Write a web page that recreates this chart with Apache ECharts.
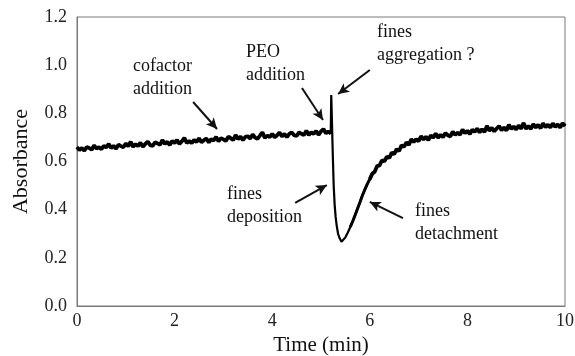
<!DOCTYPE html>
<html>
<head>
<meta charset="utf-8">
<script src="https://cdn.jsdelivr.net/npm/echarts@6/dist/echarts.min.js"></script>
<style>
  html, body { margin: 0; padding: 0; background: #fff; }
  #chart { width: 575px; height: 356px; }
</style>
</head>
<body>
<div id="chart"></div>
<script>
// time (min)
const timeMin = [
  0.00, 0.05, 0.10, 0.15, 0.20, 0.25, 0.30, 0.35, 0.40, 0.45,
  0.50, 0.55, 0.60, 0.65, 0.70, 0.75, 0.80, 0.85, 0.90, 0.95,
  1.00, 1.05, 1.10, 1.15, 1.20, 1.25, 1.30, 1.35, 1.40, 1.45,
  1.50, 1.55, 1.60, 1.65, 1.70, 1.75, 1.80, 1.85, 1.90, 1.95,
  2.00, 2.05, 2.10, 2.15, 2.20, 2.25, 2.30, 2.35, 2.40, 2.45,
  2.50, 2.55, 2.60, 2.65, 2.70, 2.75, 2.80, 2.85, 2.90, 2.95,
  3.00, 3.05, 3.10, 3.15, 3.20, 3.25, 3.30, 3.35, 3.40, 3.45,
  3.50, 3.55, 3.60, 3.65, 3.70, 3.75, 3.80, 3.85, 3.90, 3.95,
  4.00, 4.05, 4.10, 4.15, 4.20, 4.25, 4.30, 4.35, 4.40, 4.45,
  4.50, 4.55, 4.60, 4.65, 4.70, 4.75, 4.80, 4.85, 4.90, 4.95,
  5.00, 5.05, 5.10, 5.15, 5.20,
  5.21, 5.22, 5.24, 5.26, 5.28, 5.30, 5.32, 5.35, 5.38, 5.42,
  5.45, 5.50, 5.55, 5.60, 5.65, 5.70, 5.75, 5.80, 5.85, 5.90, 5.95, 6.00,
  6.05, 6.10, 6.15, 6.20, 6.25, 6.30, 6.35, 6.40, 6.45, 6.50,
  6.55, 6.60, 6.65, 6.70, 6.75, 6.80, 6.85, 6.90, 6.95, 7.00,
  7.05, 7.10, 7.15, 7.20, 7.25, 7.30, 7.35, 7.40, 7.45, 7.50,
  7.55, 7.60, 7.65, 7.70, 7.75, 7.80, 7.85, 7.90, 7.95, 8.00,
  8.05, 8.10, 8.15, 8.20, 8.25, 8.30, 8.35, 8.40, 8.45, 8.50,
  8.55, 8.60, 8.65, 8.70, 8.75, 8.80, 8.85, 8.90, 8.95, 9.00,
  9.05, 9.10, 9.15, 9.20, 9.25, 9.30, 9.35, 9.40, 9.45, 9.50,
  9.55, 9.60, 9.65, 9.70, 9.75, 9.80, 9.85, 9.90, 9.95, 10.00
];

const absorbance = [
  0.660, 0.647, 0.656, 0.645, 0.660, 0.656, 0.649, 0.667, 0.653, 0.660,
  0.651, 0.665, 0.658, 0.673, 0.656, 0.665, 0.653, 0.670, 0.664, 0.659,
  0.675, 0.663, 0.682, 0.661, 0.672, 0.664, 0.678, 0.661, 0.673, 0.683,
  0.668, 0.665, 0.680, 0.675, 0.669, 0.689, 0.673, 0.682, 0.668, 0.685,
  0.677, 0.689, 0.673, 0.684, 0.698, 0.677, 0.685, 0.676, 0.690, 0.681,
  0.696, 0.680, 0.688, 0.696, 0.679, 0.693, 0.687, 0.702, 0.684, 0.697,
  0.692, 0.685, 0.703, 0.697, 0.689, 0.710, 0.693, 0.704, 0.689, 0.702,
  0.705, 0.695, 0.712, 0.699, 0.694, 0.708, 0.721, 0.698, 0.708, 0.701,
  0.715, 0.700, 0.709, 0.720, 0.704, 0.715, 0.701, 0.715, 0.721, 0.709,
  0.706, 0.721, 0.715, 0.710, 0.728, 0.710, 0.721, 0.715, 0.727, 0.711,
  0.725, 0.735, 0.717, 0.725, 0.716,
  0.876, 0.800, 0.640, 0.500, 0.420, 0.370, 0.336, 0.300, 0.282, 0.267,
  0.268, 0.285, 0.305, 0.328, 0.352, 0.378, 0.405, 0.432, 0.460, 0.484, 0.507, 0.527,
  0.549, 0.557, 0.581, 0.584, 0.605, 0.601, 0.620, 0.615, 0.637, 0.631,
  0.651, 0.644, 0.667, 0.661, 0.679, 0.669, 0.692, 0.681, 0.693, 0.684,
  0.705, 0.691, 0.703, 0.689, 0.708, 0.699, 0.716, 0.699, 0.711, 0.701,
  0.718, 0.709, 0.704, 0.724, 0.710, 0.720, 0.711, 0.733, 0.717, 0.728,
  0.714, 0.732, 0.723, 0.737, 0.721, 0.734, 0.722, 0.748, 0.728, 0.740,
  0.725, 0.737, 0.747, 0.730, 0.741, 0.729, 0.753, 0.735, 0.745, 0.733,
  0.750, 0.736, 0.760, 0.736, 0.747, 0.735, 0.755, 0.741, 0.752, 0.738,
  0.759, 0.742, 0.753, 0.741, 0.758, 0.744, 0.754, 0.741, 0.759, 0.747
];

const xTicks = [0, 2, 4, 6, 8, 10];
const yTicks = [0.0, 0.2, 0.4, 0.6, 0.8, 1.0, 1.2];

// annotation arrows: [from, to] in (time, absorbance)
const arrowFrom = [[2.38, 0.847], [4.61, 0.905], [6.00, 0.980], [4.47, 0.428], [6.68, 0.365]];
const arrowTo   = [[2.87, 0.735], [5.04, 0.772], [5.35, 0.880], [5.12, 0.502], [6.00, 0.432]];
const noteText  = ['cofactor\naddition', 'PEO\naddition', 'fines\naggregation ?', 'fines\ndeposition', 'fines\ndetachment'];

const font = 'Liberation Serif';
const axisGray = '#7a7a7a';

const chart = echarts.init(document.getElementById('chart'));

const allPts = timeMin.map((t, i) => [t, absorbance[i]]);
// noisy stretches get a heavier pen, the fast drop stays thin like the original
const noisyBefore = allPts.filter(p => p[0] <= 5.2);
const risePart = allPts.filter(p => p[0] >= 5.6 && p[0] <= 6.1);
const noisyAfter = allPts.filter(p => p[0] >= 6.0);

const notePos = [[133, 55], [246, 41], [377, 21], [227, 183], [415, 200]];

function traceSeries(data, width) {
  return {
    type: 'line',
    data: data,
    showSymbol: false,
    silent: true,
    lineStyle: { color: '#000', width: width },
    itemStyle: { color: '#000' }
  };
}

const mainTrace = traceSeries(allPts, 2.2);
mainTrace.markLine = {
  silent: true,
  symbol: ['none', 'arrow'],
  symbolSize: [8, 11],
  label: { show: false },
  lineStyle: { color: '#111', width: 2, type: 'solid' },
  emphasis: { disabled: true },
  data: arrowFrom.map((f, i) => [{ coord: f }, { coord: arrowTo[i] }])
};

chart.setOption({
  animation: false,
  textStyle: { fontFamily: font },
  grid: {
    left: 77, right: 10, top: 17, bottom: 50,
    show: true, borderColor: axisGray, borderWidth: 1,
    outerBoundsMode: 'none'
  },
  xAxis: {
    type: 'value',
    min: xTicks[0], max: xTicks[xTicks.length - 1], interval: 2,
    name: 'Time (min)',
    nameLocation: 'middle', nameGap: 28,
    nameTextStyle: { fontFamily: font, fontSize: 21, color: '#111' },
    axisLine: { lineStyle: { color: axisGray } },
    axisTick: { show: false },
    splitLine: { show: false },
    axisLabel: { fontFamily: font, fontSize: 18, color: '#222', margin: 6 }
  },
  yAxis: {
    type: 'value',
    min: yTicks[0], max: yTicks[yTicks.length - 1], interval: 0.2,
    name: 'Absorbance',
    nameLocation: 'middle', nameGap: 45,
    nameTextStyle: { fontFamily: font, fontSize: 22, color: '#111' },
    axisLine: { show: true, lineStyle: { color: axisGray } },
    axisTick: { show: false },
    splitLine: { show: false },
    axisLabel: {
      fontFamily: font, fontSize: 18, color: '#222', margin: 10,
      formatter: v => v.toFixed(1)
    }
  },
  series: [
    mainTrace,
    traceSeries(risePart, 3),
    traceSeries(noisyBefore, 3.8),
    traceSeries(noisyAfter, 3.8)
  ],
  graphic: noteText.map((txt, i) => ({
    type: 'text',
    left: notePos[i][0],
    top: notePos[i][1],
    style: {
      text: txt,
      font: '18px "Liberation Serif"',
      fill: '#111',
      lineHeight: 23
    }
  }))
});
</script>
</body>
</html>
